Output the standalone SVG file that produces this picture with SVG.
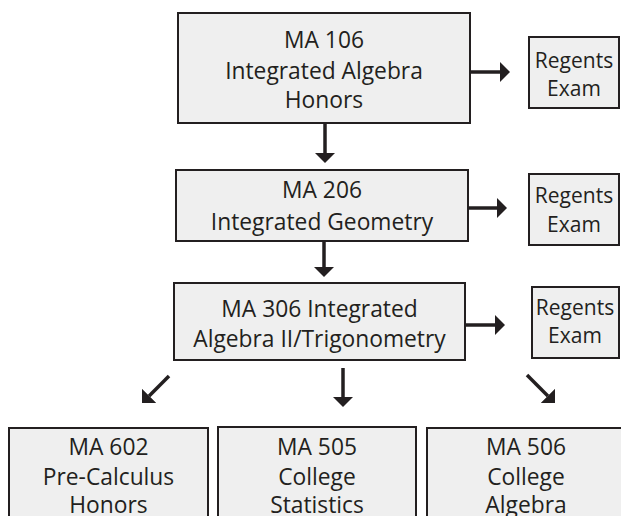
<svg xmlns="http://www.w3.org/2000/svg" width="621" height="516" viewBox="0 0 621 516">
<style>
.box{fill:#efefef;stroke:#231f20;stroke-width:2}
.t{font-family:"Open Sans","Liberation Sans",sans-serif;font-size:22.8px;fill:#231f20;text-anchor:middle}
.r{font-size:21px}
.c{stroke:#231f20;stroke-width:3.5;fill:none}
</style>
<defs>
<marker id="ah" markerUnits="userSpaceOnUse" markerWidth="10" markerHeight="20" refX="0" refY="10" orient="auto">
<path d="M0,0 L10,10 L0,20 z" fill="#231f20"/>
</marker>
</defs>
<rect width="621" height="516" fill="#fff"/>
<g id="ma106"><rect class="box" x="178" y="13" width="292" height="110"/>
<text class="t" x="324" y="48">MA 106</text><text class="t" x="324" y="79">Integrated Algebra</text><text class="t" x="324" y="108">Honors</text></g>
<g id="regents1"><rect class="box" x="529" y="37" width="90" height="71"/>
<text class="t r" x="574" y="68">Regents</text><text class="t r" x="574" y="96">Exam</text></g>
<g id="ma206"><rect class="box" x="176" y="170" width="292" height="71"/>
<text class="t" x="322" y="198">MA 206</text><text class="t" x="322" y="230">Integrated Geometry</text></g>
<g id="regents2"><rect class="box" x="529" y="174" width="90" height="71"/>
<text class="t r" x="574" y="203">Regents</text><text class="t r" x="574" y="232">Exam</text></g>
<g id="ma306"><rect class="box" x="174" y="283" width="291" height="77"/>
<text class="t" x="319.5" y="317">MA 306 Integrated</text><text class="t" x="319.5" y="347">Algebra II/Trigonometry</text></g>
<g id="regents3"><rect class="box" x="532" y="287" width="87" height="71"/>
<text class="t r" x="575" y="315">Regents</text><text class="t r" x="575" y="343">Exam</text></g>
<g id="ma602"><rect class="box" x="9" y="428" width="199" height="100"/>
<text class="t" x="108.5" y="455">MA 602</text><text class="t" x="108.5" y="485">Pre-Calculus</text><text class="t" x="108.5" y="513">Honors</text></g>
<g id="ma505"><rect class="box" x="218" y="427" width="198" height="100"/>
<text class="t" x="317" y="455">MA 505</text><text class="t" x="317" y="485">College</text><text class="t" x="317" y="513">Statistics</text></g>
<g id="ma506"><rect class="box" x="427" y="428" width="200" height="100"/>
<text class="t" x="526" y="455">MA 506</text><text class="t" x="526" y="485">College</text><text class="t" x="526" y="513">Algebra</text></g>
<g id="connectors">
<line class="c" x1="470" y1="72" x2="500" y2="72" marker-end="url(#ah)"/>
<line class="c" x1="325" y1="123" x2="325" y2="153" marker-end="url(#ah)"/>
<line class="c" x1="468" y1="208" x2="497" y2="208" marker-end="url(#ah)"/>
<line class="c" x1="324" y1="241" x2="324" y2="267" marker-end="url(#ah)"/>
<line class="c" x1="465" y1="325" x2="495" y2="325" marker-end="url(#ah)"/>
<line class="c" x1="169" y1="376" x2="149.1" y2="395.9" marker-end="url(#ah)"/>
<line class="c" x1="343" y1="368" x2="343" y2="397" marker-end="url(#ah)"/>
<line class="c" x1="527" y1="375" x2="547.9" y2="395.9" marker-end="url(#ah)"/>
</g>
</svg>
